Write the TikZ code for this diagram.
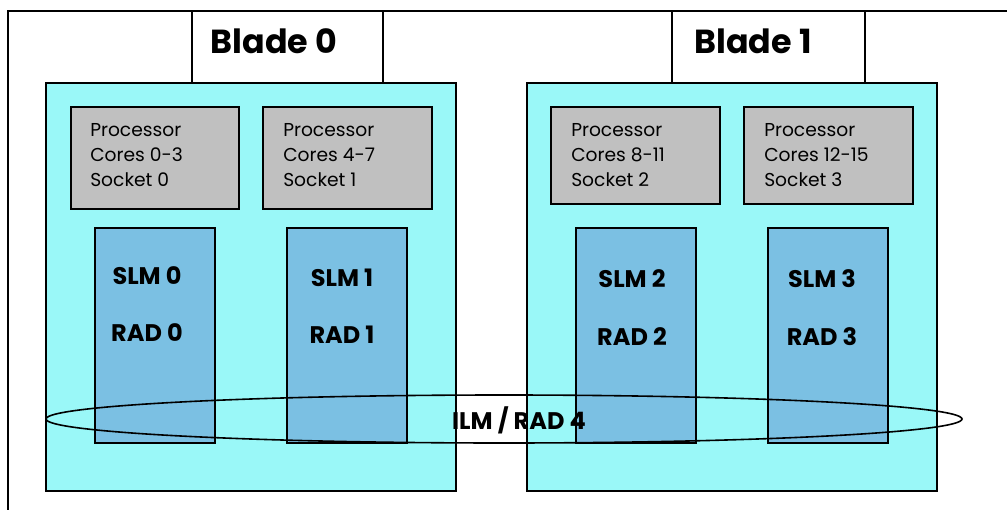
\documentclass[tikz,border=0pt]{standalone}
\usepackage{fontspec}
\setmainfont{Poppins}
\usetikzlibrary{fit}
\definecolor{bladecyan}{HTML}{9AF8F8}
\definecolor{slmblue}{HTML}{7BC0E3}
\definecolor{cpugray}{HTML}{C0C0C0}
\begin{document}
\begin{tikzpicture}[x=0.75pt,y=-0.75pt,
  frame/.style={line width=1.5pt},
  bladebox/.style={draw, line width=1.2pt, fill=bladecyan, inner sep=0pt},
  labelbox/.style={draw, line width=1.5pt, fill=white, inner sep=0pt},
  cpubox/.style={draw, line width=1.5pt, fill=cpugray, inner sep=0pt},
  slmbox/.style={draw, line width=1.5pt, fill=slmblue, inner sep=0pt},
  cputext/.style={anchor=north west, align=left, inner sep=0pt, font=\fontsize{14}{19}\selectfont},
  bladetext/.style={font=\fontsize{25}{28}\selectfont\bfseries, inner sep=0pt},
  slmtext/.style={font=\fontsize{18}{21}\selectfont\bfseries, inner sep=0pt},
]
\useasboundingbox (0,0) rectangle (1007,510);
\fill[white] (0,0) rectangle (1007,510);
% outer frame
\coordinate (ftr) at (1007,11);
\coordinate (fbl) at (8,510);
\draw[frame] (ftr) -- (8,11) -- (fbl);
% blade label boxes
\node[labelbox, fit={(192,11) (383,83)}] (lb0) {};
\node[labelbox, fit={(672,11) (865,83)}] (lb1) {};
\node[bladetext] (bt0) at (274,41) {Blade 0};
\node[bladetext] (bt1) at (753,41) {Blade 1};
% blades
\node[bladebox, fit={(46,83) (456,491)}] (b0) {};
\node[bladebox, fit={(527,83) (937,491)}] (b1) {};
% processors
\node[cpubox, fit={(71,107) (239,209)}] (p0) {};
\node[cpubox, fit={(263,107) (432,209)}] (p1) {};
\node[cpubox, fit={(551,107) (720,204)}] (p2) {};
\node[cpubox, fit={(744,107) (913,204)}] (p3) {};
\node[cputext] (pt0) at (90,123) {Processor\\Cores 0-3\\Socket 0};
\node[cputext] (pt1) at (283,123) {Processor\\Cores 4-7\\Socket 1};
\node[cputext] (pt2) at (571,123) {Processor\\Cores 8-11\\Socket 2};
\node[cputext] (pt3) at (764,123) {Processor\\Cores 12-15\\Socket 3};
% SLM boxes
\node[slmbox, fit={(95,228) (215,443)}] (s0) {};
\node[slmbox, fit={(287,228) (407,443)}] (s1) {};
\node[slmbox, fit={(576,228) (696,443)}] (s2) {};
\node[slmbox, fit={(768,228) (888,443)}] (s3) {};
\node[slmtext] (sl0) at (147,276) {SLM 0};
\node[slmtext] (rd0) at (147,333) {RAD 0};
\node[slmtext] (sl1) at (342,278) {SLM 1};
\node[slmtext] (rd1) at (342,335) {RAD 1};
\node[slmtext] (sl2) at (632,279) {SLM 2};
\node[slmtext] (rd2) at (632,337) {RAD 2};
\node[slmtext] (sl3) at (822,279) {SLM 3};
\node[slmtext] (rd3) at (822,337) {RAD 3};
% ILM ellipse
\coordinate (ec) at (504,419);
\draw[line width=1.2pt] (ec) ellipse [x radius=458, y radius=24];
\node[slmtext] (ilm) at (519,420) {ILM / RAD 4};
\end{tikzpicture}
\end{document}
